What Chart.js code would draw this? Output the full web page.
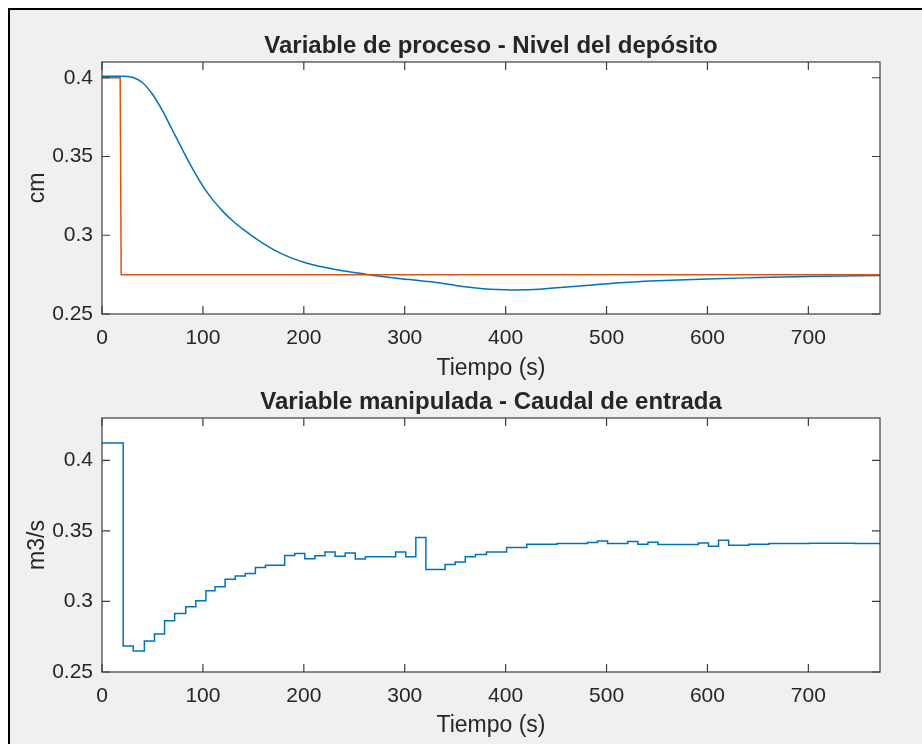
<!DOCTYPE html>
<html lang="es">
<head>
<meta charset="utf-8">
<title>Nivel del depósito y caudal de entrada</title>
<script src="https://cdn.jsdelivr.net/npm/chart.js@4.4.1/dist/chart.umd.min.js"></script>
<style>
  html, body { margin: 0; padding: 0; background: #fff; }
  body { width: 922px; height: 744px; position: relative; overflow: hidden; }
  #frame {
    position: absolute; left: 8px; top: 8px; right: -20px; bottom: -20px;
    background: #f0f0f0; border-left: 2px solid #000; border-top: 2px solid #000;
  }
  canvas { position: absolute; left: 0; }
  #levelChart { top: 0; }
  #flowChart { top: 385px; }
</style>
</head>
<body>
<div id="frame"></div>
<canvas id="levelChart" width="922" height="385"></canvas>
<canvas id="flowChart" width="922" height="359"></canvas>

<script>
// ─── Data ─────────────────────────────────────────────────────
const T_END = 771;

// Setpoint (cm): step from 0.4 down to 0.275
const setpointTimes  = [0, 18, 19, T_END];
const setpointValues = [0.4, 0.4, 0.275, 0.275];

// Tank level (cm)
const levelTimes  = [0, 20, 30, 40, 50, 60, 70, 80, 90, 100, 110, 120, 130, 140, 150, 160, 170, 180, 190, 200,
                     215, 230, 245, 262, 280, 296, 312, 328, 345, 362, 378, 392, 405, 420, 444, 477, 510, 550,
                     600, 650, 700, T_END];
const levelValues = [0.401, 0.401, 0.4003, 0.397, 0.3895, 0.379, 0.3665, 0.354, 0.342, 0.3312, 0.3223, 0.315,
                     0.3089, 0.3037, 0.299, 0.2947, 0.2909, 0.2877, 0.285, 0.2828, 0.2803, 0.2784, 0.2768,
                     0.2752, 0.2736, 0.2724, 0.2714, 0.2703, 0.2687, 0.2671, 0.266, 0.2655, 0.2653, 0.2654,
                     0.2663, 0.2679, 0.2697, 0.2711, 0.2723, 0.2731, 0.2738, 0.2745];

// Inlet flow (m3/s), held between controller updates
const flowTimes  = [0, 21, 31, 42, 52, 62, 72, 83, 93, 103, 112, 122, 132, 142, 152, 162, 181, 191, 201, 211,
                    221, 231, 241, 251, 261, 291, 301, 311, 321, 340, 350, 360, 370, 381, 401, 421, 451, 481,
                    491, 501, 521, 531, 541, 551, 591, 601, 611, 621, 641, 661, 701, 746, T_END];
const flowValues = [0.4122, 0.2684, 0.2649, 0.2719, 0.2769, 0.2863, 0.2915, 0.2962, 0.3005, 0.3075, 0.3104,
                    0.3158, 0.3181, 0.3198, 0.3241, 0.3257, 0.3326, 0.334, 0.3302, 0.3323, 0.3351, 0.332,
                    0.3344, 0.33, 0.3316, 0.3351, 0.3316, 0.3453, 0.3227, 0.3262, 0.328, 0.3316, 0.3333,
                    0.3351, 0.3382, 0.3406, 0.341, 0.3418, 0.3429, 0.341, 0.3425, 0.3406, 0.342, 0.3403,
                    0.3415, 0.3391, 0.3433, 0.3399, 0.3406, 0.341, 0.3413, 0.341, 0.341];

const xTicksStep = 100;
const yTicksStep = 0.05;

// ─── Style ────────────────────────────────────────────────────
const FONT      = "'Liberation Sans', Arial, Helvetica, sans-serif";
const TEXT      = '#262626';
const AXIS      = '#3c3c3c';
const BLUE      = '#0072BD';
const ORANGE    = '#D95319';
const TICK_LEN  = 8;

const toPoints = (xs, ys) => xs.map((x, i) => ({ x, y: ys[i] }));

// White plot box, full frame, inward ticks on all four sides,
// and the axes title centred over the plot box
const boxedAxes = {
  id: 'boxedAxes',
  beforeDraw(chart) {
    const { ctx, chartArea: a } = chart;
    ctx.save();
    ctx.fillStyle = '#fff';
    ctx.fillRect(a.left, a.top, a.right - a.left, a.bottom - a.top);
    ctx.restore();
  },
  afterDraw(chart, args, opts) {
    const { ctx, chartArea: a, scales: { x, y } } = chart;
    ctx.save();
    ctx.strokeStyle = AXIS;
    ctx.lineWidth = 1.2;
    ctx.beginPath();
    x.ticks.forEach(t => {
      const px = x.getPixelForValue(t.value);
      ctx.moveTo(px, a.bottom); ctx.lineTo(px, a.bottom - TICK_LEN);
      ctx.moveTo(px, a.top);    ctx.lineTo(px, a.top + TICK_LEN);
    });
    y.ticks.forEach(t => {
      const py = y.getPixelForValue(t.value);
      ctx.moveTo(a.left, py);  ctx.lineTo(a.left + TICK_LEN, py);
      ctx.moveTo(a.right, py); ctx.lineTo(a.right - TICK_LEN, py);
    });
    ctx.stroke();
    ctx.strokeRect(a.left, a.top, a.right - a.left, a.bottom - a.top);

    ctx.fillStyle = TEXT;
    ctx.font = `bold 24px ${FONT}`;
    ctx.textAlign = 'center';
    ctx.textBaseline = 'middle';
    ctx.fillText(opts.text, (a.left + a.right) / 2, a.top - opts.offset);
    ctx.restore();
  },
};

function makeOptions({ title, yLabel, yMax, top, xHeight, xTitlePad }) {
  return {
    responsive: false,
    animation: false,
    events: [],
    layout: { padding: { left: 0, right: 42, top, bottom: 0 } },
    plugins: {
      legend: { display: false },
      tooltip: { enabled: false },
      title: { display: false },
      boxedAxes: { text: title, offset: 16 },
    },
    scales: {
      x: {
        type: 'linear',
        min: 0, max: T_END,
        grid: { display: false },
        border: { display: false },
        ticks: {
          stepSize: xTicksStep, includeBounds: false, maxRotation: 0,
          color: TEXT, padding: 4, font: { family: FONT, size: 21 },
        },
        title: {
          display: true, text: 'Tiempo (s)', color: TEXT,
          font: { family: FONT, size: 23 }, padding: { top: 0, bottom: xTitlePad },
        },
        afterFit: s => { s.height = xHeight; },
      },
      y: {
        type: 'linear',
        min: 0.25, max: yMax,
        grid: { display: false },
        border: { display: false },
        ticks: {
          stepSize: yTicksStep, includeBounds: false,
          color: TEXT, padding: 1, font: { family: FONT, size: 21 },
          callback: v => String(+v.toFixed(2)),
        },
        title: {
          display: true, text: yLabel, color: TEXT,
          font: { family: FONT, size: 23 }, padding: { top: 24, bottom: 0 },
        },
        afterFit: s => { s.width = 102; },
      },
    },
  };
}

// ─── 1. Process variable: tank level ──────────────────────────
new Chart(document.getElementById('levelChart'), {
  type: 'line',
  data: {
    datasets: [
      {
        label: 'Consigna',
        data: toPoints(setpointTimes, setpointValues),
        borderColor: ORANGE, borderWidth: 1.5, pointRadius: 0, tension: 0,
      },
      {
        label: 'Nivel',
        data: toPoints(levelTimes, levelValues),
        borderColor: BLUE, borderWidth: 1.5, pointRadius: 0,
        cubicInterpolationMode: 'monotone',
      },
    ],
  },
  options: makeOptions({
    title: 'Variable de proceso - Nivel del depósito',
    yLabel: 'cm', yMax: 0.41, top: 62,
    xHeight: 71, xTitlePad: 3,
  }),
  plugins: [boxedAxes],
});

// ─── 2. Manipulated variable: inlet flow ──────────────────────
new Chart(document.getElementById('flowChart'), {
  type: 'line',
  data: {
    datasets: [
      {
        label: 'Caudal',
        data: toPoints(flowTimes, flowValues),
        borderColor: BLUE, borderWidth: 1.5, pointRadius: 0,
        stepped: 'before',
      },
    ],
  },
  options: makeOptions({
    title: 'Variable manipulada - Caudal de entrada',
    yLabel: 'm3/s', yMax: 0.43, top: 33,
    xHeight: 72, xTitlePad: 5,
  }),
  plugins: [boxedAxes],
});
</script>
</body>
</html>
